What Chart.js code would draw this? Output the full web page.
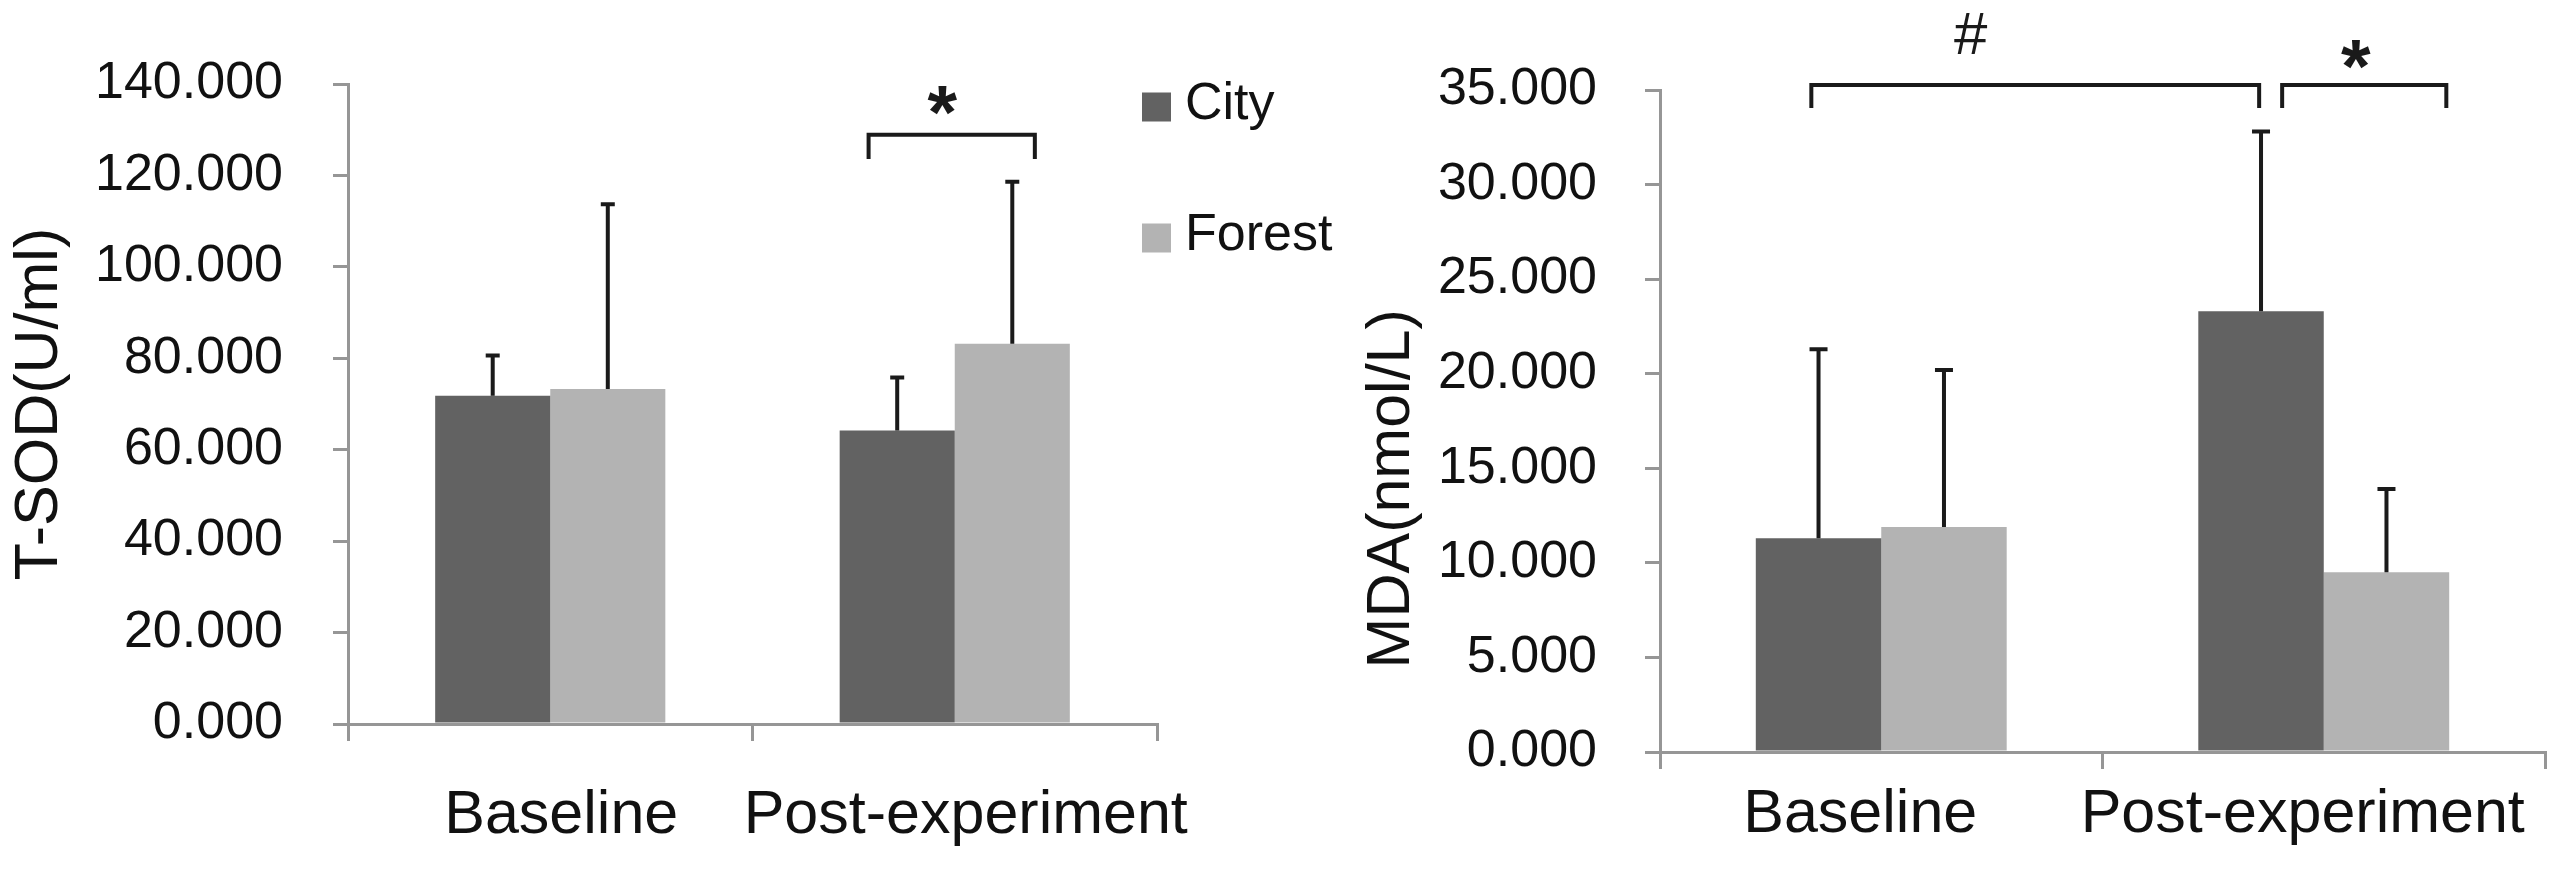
<!DOCTYPE html>
<html>
<head>
<meta charset="utf-8">
<title>T-SOD and MDA</title>
<script src="https://cdn.jsdelivr.net/npm/chart.js@4.4.1/dist/chart.umd.min.js"></script>
<style>
    html, body { margin: 0; padding: 0; background: #fff; }
    #wrap { position: relative; width: 2576px; height: 890px; overflow: hidden; }
    canvas { position: absolute; top: 0; }
    #sod-chart { left: 0; }
    #mda-chart { left: 1300px; }
</style>
</head>
<body>
<div id="wrap">
    <canvas id="sod-chart" width="1400" height="890"></canvas>
    <canvas id="mda-chart" width="1276" height="890"></canvas>
</div>
<script>
// ===================================================================
// DATA
// ===================================================================
const categories = ['Baseline', 'Post-experiment'];
const seriesNames = ['City', 'Forest'];

// T-SOD (U/ml): means and upper error (SD)
const sodCity = [71.8, 64.2];
const sodCitySd = [8.8, 11.6];
const sodForest = [73.3, 83.2];
const sodForestSd = [40.4, 35.4];
const sodTicks = [0, 20, 40, 60, 80, 100, 120, 140];

// MDA (nmol/L)
const mdaCity = [11.3, 23.3];
const mdaCitySd = [10.0, 9.5];
const mdaForest = [11.9, 9.5];
const mdaForestSd = [8.3, 4.4];
const mdaTicks = [0, 5, 10, 15, 20, 25, 30, 35];

// significance brackets, in category index / value units
const sodMarks = [
    { from: 0.787, to: 1.198, y: 128.9, leg: 123.6, text: '*', textX: 0.97, textY: 136.3 }
];
const mdaMarks = [
    { from: -0.158, to: 0.854, y: 35.27, leg: 34.05, text: '#', textX: 0.203, textY: 38.0 },
    { from: 0.906, to: 1.277, y: 35.27, leg: 34.05, text: '*', textX: 1.073, textY: 36.9 }
];

// ===================================================================
// STYLE
// ===================================================================
const FONT = "'Liberation Sans', Arial, sans-serif";
const TEXT = '#111111';
const AXIS = '#969696';
const CITY_COLOR = '#626262';
const FOREST_COLOR = '#b3b3b3';

Chart.defaults.font.family = FONT;
Chart.defaults.color = TEXT;

// ===================================================================
// PLUGINS
// ===================================================================
const errorBars = {
    id: 'errorBars',
    afterDatasetsDraw(chart, args, opts) {
        const { ctx } = chart;
        const y = chart.scales.y;
        ctx.save();
        ctx.strokeStyle = opts.color;
        ctx.lineWidth = opts.width;
        chart.data.datasets.forEach((ds, i) => {
            chart.getDatasetMeta(i).data.forEach((bar, j) => {
                const top = y.getPixelForValue(ds.data[j] + ds.sd[j]);
                ctx.beginPath();
                ctx.moveTo(bar.x, bar.y);
                ctx.lineTo(bar.x, top);
                ctx.moveTo(bar.x - opts.cap / 2, top);
                ctx.lineTo(bar.x + opts.cap / 2, top);
                ctx.stroke();
            });
        });
        ctx.restore();
    }
};

const brackets = {
    id: 'brackets',
    afterDraw(chart, args, opts) {
        const { ctx } = chart;
        const { x, y } = chart.scales;
        ctx.save();
        ctx.strokeStyle = opts.color;
        ctx.fillStyle = opts.color;
        ctx.lineWidth = opts.width;
        ctx.lineJoin = 'miter';
        opts.items.forEach(b => {
            const x1 = x.getPixelForValue(b.from);
            const x2 = x.getPixelForValue(b.to);
            const yTop = y.getPixelForValue(b.y);
            const yLeg = y.getPixelForValue(b.leg);
            ctx.beginPath();
            ctx.moveTo(x1, yLeg);
            ctx.lineTo(x1, yTop);
            ctx.lineTo(x2, yTop);
            ctx.lineTo(x2, yLeg);
            ctx.stroke();

            // centre the glyph's ink on the mark position
            ctx.font = b.text === '*' ? opts.starFont : opts.hashFont;
            ctx.textAlign = 'left';
            ctx.textBaseline = 'alphabetic';
            const m = ctx.measureText(b.text);
            const cx = x.getPixelForValue(b.textX);
            const cy = y.getPixelForValue(b.textY);
            const tx = cx - (m.actualBoundingBoxRight - m.actualBoundingBoxLeft) / 2;
            const ty = cy + (m.actualBoundingBoxAscent - m.actualBoundingBoxDescent) / 2;
            ctx.fillText(b.text, tx, ty);
        });
        ctx.restore();
    }
};

const sideLegend = {
    id: 'sideLegend',
    afterDraw(chart, args, opts) {
        if (!opts.show) return;
        const { ctx } = chart;
        ctx.save();
        ctx.font = `${opts.size}px ${FONT}`;
        ctx.textAlign = 'left';
        ctx.textBaseline = 'middle';
        chart.data.datasets.forEach((ds, i) => {
            const cy = opts.top + i * opts.gap;
            ctx.fillStyle = ds.backgroundColor;
            ctx.fillRect(opts.x, cy - opts.box / 2, opts.box, opts.box);
            ctx.fillStyle = TEXT;
            ctx.fillText(ds.label, opts.x + opts.box + opts.textGap, cy - 2);
        });
        ctx.restore();
    }
};

// ===================================================================
// CHART BUILDER
// ===================================================================
function buildChart(canvasId, setup) {
    const ctx = document.getElementById(canvasId).getContext('2d');
    return new Chart(ctx, {
        type: 'bar',
        data: {
            labels: categories,
            datasets: [
                { label: seriesNames[0], data: setup.city, sd: setup.citySd, backgroundColor: CITY_COLOR },
                { label: seriesNames[1], data: setup.forest, sd: setup.forestSd, backgroundColor: FOREST_COLOR }
            ]
        },
        options: {
            responsive: false,
            animation: false,
            devicePixelRatio: 1,
            categoryPercentage: setup.catPct,
            barPercentage: 1.0,
            layout: { padding: setup.padding },
            plugins: {
                legend: { display: false },
                tooltip: { enabled: false },
                errorBars: { color: '#1a1a1a', width: 4, cap: setup.cap },
                brackets: {
                    items: setup.marks, color: '#1a1a1a', width: 4,
                    starFont: `bold 76px ${FONT}`, hashFont: `60px ${FONT}`
                },
                sideLegend: { show: setup.legend, x: 1142, top: 107, gap: 131, box: 29, textGap: 14, size: 52 }
            },
            scales: {
                x: {
                    afterFit: s => { s.height = setup.xHeight; },
                    border: { display: true, color: AXIS, width: 3 },
                    grid: { offset: true, drawOnChartArea: false, tickLength: 17, color: AXIS, lineWidth: 3 },
                    ticks: {
                        font: { size: 61 }, color: TEXT, padding: setup.xPad,
                        labelOffset: setup.labelShift, maxRotation: 0, autoSkip: false
                    }
                },
                y: {
                    min: setup.ticks[0],
                    max: setup.ticks[setup.ticks.length - 1],
                    afterBuildTicks: s => { s.ticks = setup.ticks.map(v => ({ value: v })); },
                    afterFit: s => { s.width = setup.yWidth; },
                    border: { display: true, color: AXIS, width: 3 },
                    grid: { drawOnChartArea: false, tickLength: 15, color: AXIS, lineWidth: 3 },
                    ticks: {
                        font: { size: 52 }, color: TEXT, padding: setup.yPad,
                        callback: v => Number(v).toFixed(3)
                    },
                    title: {
                        display: true, text: setup.title, color: TEXT,
                        font: { size: 61 }, padding: { top: setup.titlePad, bottom: 0 }
                    }
                }
            }
        },
        plugins: [errorBars, brackets, sideLegend]
    });
}

// ===================================================================
// INITIALIZATION
// ===================================================================
buildChart('sod-chart', {
    city: sodCity, citySd: sodCitySd, forest: sodForest, forestSd: sodForestSd,
    ticks: sodTicks, marks: sodMarks, title: 'T-SOD(U/ml)',
    padding: { top: 84, right: 243, bottom: 0, left: 0 },
    yWidth: 348, xHeight: 166, yPad: 50, xPad: 39, titlePad: 4,
    catPct: 0.569, cap: 14, labelShift: 11, legend: true
});

buildChart('mda-chart', {
    city: mdaCity, citySd: mdaCitySd, forest: mdaForest, forestSd: mdaForestSd,
    ticks: mdaTicks, marks: mdaMarks, title: 'MDA(nmol/L)' + '\u00a0'.repeat(8),
    padding: { top: 90, right: 31, bottom: 0, left: 0 },
    yWidth: 360, xHeight: 138, yPad: 48, xPad: 10, titlePad: 56,
    catPct: 0.567, cap: 18, labelShift: -21, legend: false
});
</script>
</body>
</html>
